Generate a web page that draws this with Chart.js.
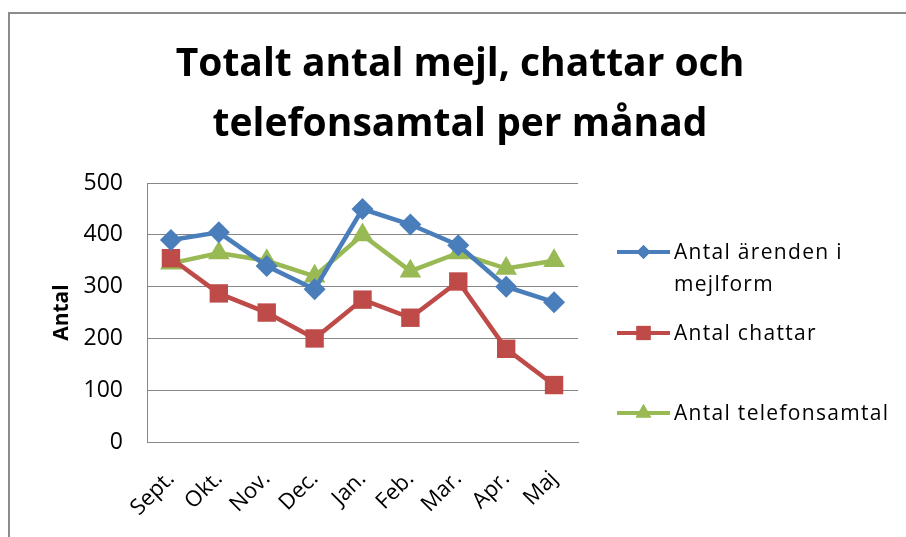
<!DOCTYPE html>
<html><head><meta charset="utf-8">
<script src="https://cdn.jsdelivr.net/npm/chart.js@4.4.1/dist/chart.umd.min.js"></script>
<style>html,body{margin:0;padding:0;background:#fff;}#wrap{width:906px;height:537px;position:relative;}</style>
</head><body><div id="wrap"><canvas id="c" width="906" height="537"></canvas></div>
<script>
const categories = ['Sept.','Okt.','Nov.','Dec.','Jan.','Feb.','Mar.','Apr.','Maj'];
const mejl     = [390, 405, 340, 295, 450, 420, 380, 300, 270];
const chattar  = [355, 287, 250, 200, 275, 240, 310, 180, 110];
const telefon  = [345, 365, 350, 320, 400, 330, 365, 335, 350];
const seriesNames = ['Antal ärenden i mejlform', 'Antal chattar', 'Antal telefonsamtal'];
const titleLines = ['Totalt antal mejl, chattar och', 'telefonsamtal per månad'];
const yTicks = [0, 100, 200, 300, 400, 500];
const yTitle = 'Antal';

const FONT = "'Open Sans', 'DejaVu Sans', sans-serif";
const colors = ['#4A7EBB', '#BE4B48', '#98B954'];
const styles = ['rectRot', 'rect', 'triangle'];
const radii = [11, 13, 12.5];
const legendRadii = [7, 10, 9];

const framePlugin = {
  id: 'frame',
  beforeDraw(chart) {
    const ctx = chart.ctx;
    ctx.save();
    ctx.fillStyle = '#fff';
    ctx.fillRect(0, 0, chart.width, chart.height);
    ctx.strokeStyle = '#8c8c8c';
    ctx.lineWidth = 2;
    ctx.beginPath();
    ctx.moveTo(9, chart.height);
    ctx.lineTo(9, 13);
    ctx.lineTo(chart.width, 13);
    ctx.stroke();
    ctx.restore();
  }
};

const legendPlugin = {
  id: 'sideLegend',
  afterDraw(chart) {
    const ctx = chart.ctx;
    const ca = chart.chartArea;
    const x0 = ca.right + 39, x1 = ca.right + 92, tx = ca.right + 96;
    const ys = [252, 333, 413];
    const maxW = 225;
    ctx.save();
    ctx.font = "21px " + FONT;
    try { ctx.letterSpacing = '1.3px'; } catch (e) {}
    chart.data.datasets.forEach((ds, i) => {
      const y = ys[i];
      ctx.strokeStyle = ds.borderColor;
      ctx.lineWidth = 4;
      ctx.beginPath(); ctx.moveTo(x0, y); ctx.lineTo(x1, y); ctx.stroke();
      ctx.fillStyle = ds.borderColor;
      Chart.helpers.drawPoint(ctx, {pointStyle: ds.pointStyle, radius: legendRadii[i], rotation: 0, borderWidth: 0}, (x0 + x1) / 2, y);
      ctx.fill();
      const words = ds.label.split(' ');
      const lines = [];
      let cur = '';
      words.forEach(w => {
        const t = cur ? cur + ' ' + w : w;
        if (ctx.measureText(t).width > maxW && cur) { lines.push(cur); cur = w; } else cur = t;
      });
      if (cur) lines.push(cur);
      ctx.fillStyle = '#000';
      ctx.textBaseline = 'middle';
      ctx.textAlign = 'left';
      lines.forEach((ln, k) => ctx.fillText(ln, tx, y + 1 + k * 32));
    });
    ctx.restore();
  }
};

const mk = (label, data, i) => ({
  label, data,
  borderColor: colors[i], backgroundColor: colors[i],
  pointBackgroundColor: colors[i], pointBorderColor: colors[i],
  pointStyle: styles[i], pointRadius: radii[i], pointBorderWidth: 0,
  pointHoverRadius: radii[i],
  borderWidth: 4.5, tension: 0, fill: false, yAxisID: 'y'
});

new Chart(document.getElementById('c'), {
  type: 'line',
  data: {
    labels: categories,
    datasets: [mk(seriesNames[0], mejl, 0), mk(seriesNames[1], chattar, 1), mk(seriesNames[2], telefon, 2)]
  },
  options: {
    responsive: false,
    animation: false,
    layout: { padding: { left: 14, right: 0, top: 0, bottom: 0 } },
    plugins: {
      legend: { display: false },
      tooltip: { enabled: false },
      title: {
        display: true, text: titleLines, color: '#000',
        font: { family: FONT, size: 39, weight: 'bold', lineHeight: 1.54 },
        padding: { top: 35, bottom: 28 }
      }
    },
    scales: {
      x: {
        offset: true,
        grid: { display: true, color: 'rgba(0,0,0,0)', drawTicks: false },
        border: { display: true, color: '#868686', width: 1 },
        ticks: { color: '#000', font: { family: FONT, size: 22 }, maxRotation: 45, minRotation: 45, autoSkip: false, padding: 24 },
        afterFit: s => { s.height = 95; }
      },
      y: {
        position: 'left', min: 0, max: 500,
        afterBuildTicks: s => { s.ticks = yTicks.map(v => ({ value: v })); },
        grid: { color: '#868686', lineWidth: 1, drawTicks: false },
        border: { display: true, color: '#868686', width: 1 },
        ticks: { color: '#000', font: { family: FONT, size: 23 }, padding: 24 },
        title: { display: true, text: yTitle, color: '#000', font: { family: FONT, size: 21, weight: 'bold' }, padding: { top: 35, bottom: 0 } },
        afterFit: s => { s.width = 133; }
      },
      yR: {
        position: 'right', display: true,
        grid: { display: false, drawTicks: false }, border: { display: false },
        ticks: { display: false },
        afterFit: s => { s.width = 328; }
      }
    }
  },
  plugins: [framePlugin, legendPlugin]
});
</script></body></html>
